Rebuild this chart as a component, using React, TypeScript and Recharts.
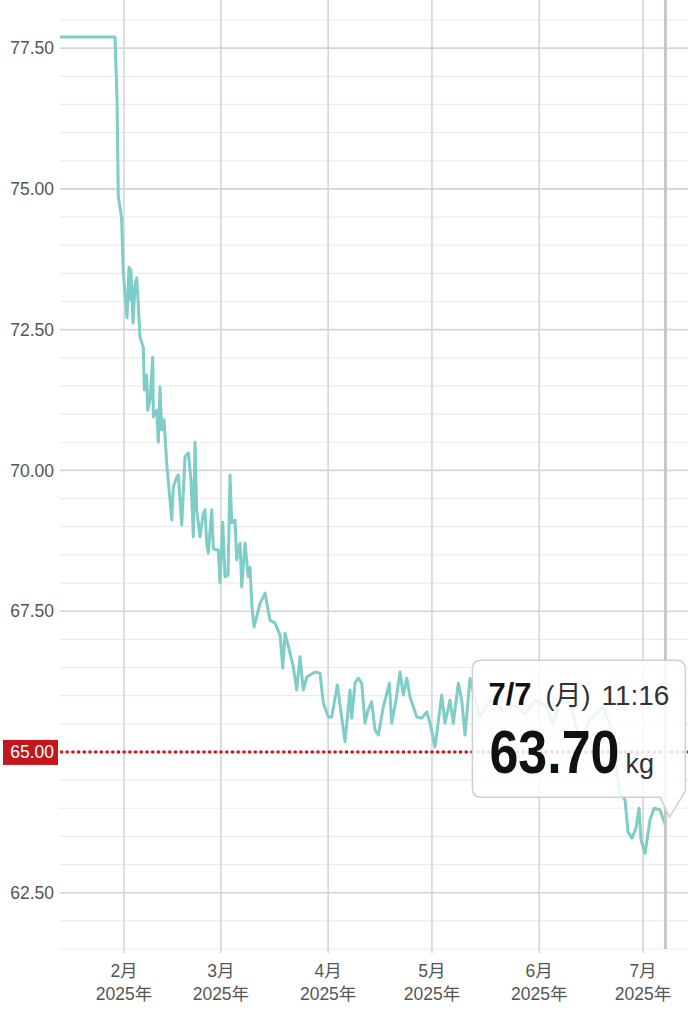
import React from 'react';
import * as R from 'recharts';
import { LineChart, Line, XAxis, YAxis, CartesianGrid, ReferenceLine, ReferenceDot } from 'recharts';

// days since Jan 1 2025 (fractional = time of day)
const days = [12.5, 28.4, 28.98, 29.35, 30.28, 30.8, 31.87, 32.45, 32.73, 33.02, 33.6, 34.18, 34.67, 35.05, 35.62, 36.58, 36.87, 37.56, 37.85, 38.51, 39.29, 39.47, 40.45, 40.91, 41.4, 41.9, 42.56, 43.34, 44.79, 45.25, 46.23, 46.69, 47.68, 48.63, 49.58, 50.36, 51.03, 51.52, 52.01, 52.97, 53.83, 54.41, 54.9, 55.36, 56.35, 56.81, 57.3, 58.25, 58.75, 59.53, 60.19, 61.06, 61.64, 62.13, 63.08, 63.57, 64.53, 65.02, 65.97, 66.92, 67.42, 67.91, 68.57, 70.31, 71.75, 73.2, 74.64, 76.09, 76.87, 77.53, 78.4, 79.93, 80.91, 81.87, 82.82, 83.8, 86.2, 87.65, 88.6, 90.05, 91.03, 92.65, 94.87, 96.32, 96.81, 97.76, 98.72, 99.7, 100.65, 101.52, 102.59, 103.54, 104.5, 105.94, 107.68, 108.37, 109.61, 110.77, 111.72, 112.71, 113.66, 115.6, 117.04, 118.49, 119.44, 120.88, 122.82, 123.77, 125.22, 126.17, 127.62, 128.6, 129.55, 131.0, 132.45, 133.89, 136.78, 140.54, 144.01, 146.9, 149.79, 153.25, 154.99, 157.01, 159.9, 162.79, 165.68, 169.44, 171.46, 174.35, 175.8, 176.66, 177.82, 178.98, 179.84, 180.42, 181.58, 183.02, 184.18, 185.91, 187.47];

const weights = [77.7, 77.7, 76.58, 74.86, 74.5, 73.51, 72.71, 73.61, 73.03, 73.56, 72.62, 73.29, 73.42, 73.03, 72.37, 72.19, 71.43, 71.69, 71.07, 71.25, 72.01, 70.95, 71.07, 70.5, 71.48, 70.72, 70.9, 70.13, 69.12, 69.71, 69.88, 69.92, 69.03, 70.24, 70.31, 69.83, 68.82, 70.5, 69.3, 68.82, 69.21, 69.3, 68.71, 68.53, 69.3, 68.62, 68.59, 68.59, 68.0, 69.08, 68.11, 68.14, 69.92, 69.07, 69.12, 68.41, 68.71, 67.93, 68.71, 68.11, 68.28, 67.64, 67.22, 67.64, 67.82, 67.34, 67.29, 67.08, 66.49, 67.11, 66.9, 66.51, 66.1, 66.69, 66.1, 66.33, 66.42, 66.4, 65.87, 65.62, 65.62, 66.19, 65.18, 66.1, 65.6, 66.22, 66.31, 66.22, 65.51, 65.74, 65.89, 65.39, 65.3, 65.8, 66.22, 65.51, 65.92, 66.42, 66.01, 66.31, 65.98, 65.62, 65.6, 65.71, 65.51, 65.09, 66.01, 65.51, 65.92, 65.51, 66.22, 65.92, 65.3, 66.31, 65.92, 65.62, 65.92, 65.74, 65.83, 65.66, 65.92, 65.8, 65.48, 65.92, 65.87, 65.16, 65.57, 65.8, 65.48, 64.27, 64.15, 63.58, 63.47, 63.65, 64.0, 63.44, 63.2, 63.79, 64.0, 63.97, 63.7];

const monthTicks = [31, 59, 90, 120, 151, 181];
const monthLabels = ['2月', '3月', '4月', '5月', '6月', '7月'];
const yearLabel = '2025年';

const yMajor = [62.5, 65, 67.5, 70, 72.5, 75, 77.5];
const yMinor = [61.5, 62, 63, 63.5, 64, 64.5, 65.5, 66, 66.5, 67, 68, 68.5, 69, 69.5, 70.5, 71, 71.5, 72, 73, 73.5, 74, 74.5, 75.5, 76, 76.5, 77, 78];
const goalWeight = 65;

const latestDay = 187.47;
const latestWeight = 63.7;
const latestDate = '7/7';
const latestWeekday = '(月)';
const latestTime = '11:16';
const unit = 'kg';

const rows = days.map((d, i) => ({ day: d, weight: weights[i] }));

const FONT = "'Liberation Sans', Arial, 'Noto Sans CJK JP', sans-serif";
const LABEL_COLOR = '#555';
const CURSOR_COLOR = '#c6c6c6';

const usePlotAreaHook: any = (R as any).usePlotArea;
const HAS_PLOT_HOOK = typeof usePlotAreaHook === 'function';

const MonthTick = (props: any) => {
  const { x, y, payload } = props;
  const i = monthTicks.indexOf(payload.value);
  return (
    <g>
      <text x={x} y={y + 22} textAnchor="middle" fill={LABEL_COLOR} fontSize={17.5} fontFamily={FONT}>{monthLabels[i]}</text>
      <text x={x} y={y + 45} textAnchor="middle" fill={LABEL_COLOR} fontSize={17.5} fontFamily={FONT}>{yearLabel}</text>
    </g>
  );
};

const GoalLabel = (props: any) => {
  const vb = props.viewBox || {};
  const vx = vb.x ?? 60;
  const vy = vb.y ?? 751;
  return (
    <g>
      <rect x={vx - 57} y={vy - 12} width={55} height={25} fill="#c5161d" />
      <text x={vx - 6} y={vy + 6.5} textAnchor="end" fill="#fff" fontSize={17.5} fontFamily={FONT}>{goalWeight.toFixed(2)}</text>
    </g>
  );
};

const Bubble = (props: any) => {
  const plot = HAS_PLOT_HOOK ? usePlotAreaHook() : null;
  const { cx, cy } = props;
  if (cx == null || cy == null) return null;
  const L = cx - 193, Rr = cx + 20, T = cy - 165, B = cy - 28, r = 9;
  const d = `M ${L + r} ${T} H ${Rr - r} Q ${Rr} ${T} ${Rr} ${T + r} V ${B - 6} L ${cx + 4} ${cy - 8} L ${cx - 5} ${B} H ${L + r} Q ${L} ${B} ${L} ${B - r} V ${T + r} Q ${L} ${T} ${L + r} ${T} Z`;
  return (
    <g>
      {plot ? <line x1={cx} x2={cx} y1={plot.y} y2={plot.y + plot.height} stroke={CURSOR_COLOR} strokeWidth={3} /> : null}
      <path d={d} fill="rgba(255,255,255,0.84)" stroke="#cfcfcf" strokeWidth={1.5} />
      <text x={L + 16} y={T + 45} fill="#111" fontSize={31} fontWeight="bold" fontFamily={FONT}>{latestDate}</text>
      <text x={L + 73} y={T + 45} fill="#333" fontSize={27} fontFamily={FONT}>{latestWeekday}</text>
      <text x={L + 129} y={T + 45} fill="#333" fontSize={28} fontFamily={FONT}>{latestTime}</text>
      <g transform={`translate(${L + 17}, ${T + 113}) scale(1, 1.18)`}>
        <text x={0} y={0} fill="#111" fontSize={52} fontWeight="bold" fontFamily={FONT}>{latestWeight.toFixed(2)}</text>
      </g>
      <text x={L + 153} y={T + 113} fill="#333" fontSize={27} fontFamily={FONT}>{unit}</text>
    </g>
  );
};

export default function App() {
  return (
    <div style={{ position: 'absolute', left: 0, top: 0, width: 688, height: 1024, background: '#fff', overflow: 'hidden' }}>
      <LineChart width={688} height={1024} data={rows} margin={{ top: 0, right: 0, bottom: 0, left: 0 }}>
        <CartesianGrid horizontalValues={yMinor} vertical={false} stroke="#ebebeb" strokeWidth={1.2} />
        <CartesianGrid horizontalValues={yMajor} verticalValues={monthTicks} stroke="#d5d5d5" strokeWidth={1.6} />
        <XAxis dataKey="day" type="number" domain={[12.5, 194]} allowDataOverflow ticks={monthTicks} interval={0} tick={<MonthTick />} tickLine={{ stroke: '#d5d5d5', strokeWidth: 1.6 }} tickSize={4} tickMargin={2} axisLine={false} height={75} />
        <YAxis type="number" domain={[61.5, 78.355]} allowDataOverflow ticks={yMajor.filter((v) => v !== goalWeight)} interval={0} tickFormatter={(v: number) => v.toFixed(2)} tick={{ fill: LABEL_COLOR, fontSize: 17.5, fontFamily: FONT }} tickLine={false} tickSize={4} tickMargin={2} axisLine={false} width={60} />
        {HAS_PLOT_HOOK ? null : <ReferenceLine x={latestDay} stroke={CURSOR_COLOR} strokeWidth={3} />}
        <Line type="linear" dataKey="weight" stroke="#7ecdc8" strokeWidth={3} dot={false} activeDot={false} strokeLinejoin="round" isAnimationActive={false} />
        <ReferenceLine y={goalWeight} stroke="#c5161d" strokeWidth={3} strokeDasharray="3 2.7" label={<GoalLabel />} />
        <ReferenceDot x={latestDay} y={latestWeight} r={0} shape={<Bubble />} />
      </LineChart>
    </div>
  );
}
